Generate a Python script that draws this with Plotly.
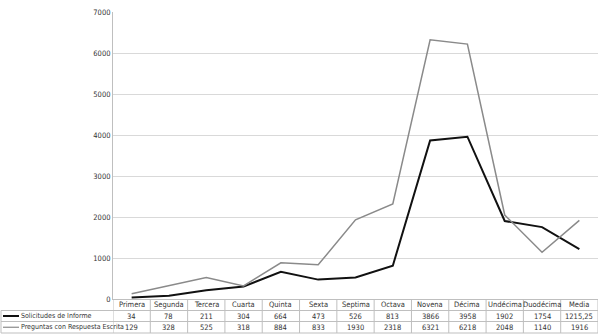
import plotly.graph_objects as go

categories = ["Primera", "Segunda", "Tercera", "Cuarta", "Quinta", "Sexta", "Septima",
              "Octava", "Novena", "Décima", "Undécima", "Duodécima", "Media"]
solicitudes = [34, 78, 211, 304, 664, 473, 526, 813, 3866, 3958, 1902, 1754, 1215.25]
solicitudes_txt = ["34", "78", "211", "304", "664", "473", "526", "813", "3866", "3958",
                   "1902", "1754", "1215,25"]
preguntas = [129, 328, 525, 318, 884, 833, 1930, 2318, 6321, 6218, 2048, 1140, 1916]
preguntas_txt = [str(v) for v in preguntas]
series_names = ["Solicitudes de Informe", "Preguntas con Respuesta Escrita"]
y_ticks = [0, 1000, 2000, 3000, 4000, 5000, 6000, 7000]

W, H = 600, 334
L, R, T, B = 113, 2, 12, 35
pw = W - L - R
ph = H - T - B

def py(px):  # pixel y -> paper y
    return (H - B - px) / ph

def pxx(px):  # pixel x -> paper x
    return (px - L) / pw

FONT = "Liberation Sans Narrow, DejaVu Sans Condensed, Liberation Sans"
line_col = "#bfbfbf"
txt_col = "#333333"

fig = go.Figure()
fig.add_trace(go.Scatter(x=categories, y=solicitudes, mode="lines", name=series_names[0],
                         line=dict(color="#111111", width=2)))
fig.add_trace(go.Scatter(x=categories, y=preguntas, mode="lines", name=series_names[1],
                         line=dict(color="#8a8a8a", width=1.5)))

shapes = []
ann = []
rows = [299, 310.5, 321.5, 333]
n = len(categories)
for yy in rows[1:]:
    shapes.append(dict(type="line", xref="paper", yref="paper", x0=pxx(1), x1=1,
                       y0=py(yy), y1=py(yy), line=dict(color=line_col, width=1)))
shapes.append(dict(type="line", xref="paper", yref="paper", x0=pxx(1), x1=pxx(1),
                   y0=py(rows[1]), y1=py(rows[3]), line=dict(color=line_col, width=1)))
for k in range(n + 1):
    shapes.append(dict(type="line", xref="x", yref="paper", x0=k - 0.5, x1=k - 0.5,
                       y0=py(rows[0]), y1=py(rows[3]), line=dict(color=line_col, width=1)))

centers = [(rows[i] + rows[i + 1]) / 2 for i in range(3)]
for k, c in enumerate(categories):
    for r, txt in enumerate([c, solicitudes_txt[k], preguntas_txt[k]]):
        ann.append(dict(x=c, xref="x", y=py(centers[r]), yref="paper", text=txt, showarrow=False,
                        font=dict(size=7.5, color=txt_col, family=FONT), yanchor="middle"))

for i, (nm, col, wd) in enumerate([(series_names[0], "#111111", 2), (series_names[1], "#8a8a8a", 1.2)]):
    yc = centers[i + 1]
    shapes.append(dict(type="line", xref="paper", yref="paper", x0=pxx(3), x1=pxx(19),
                       y0=py(yc), y1=py(yc), line=dict(color=col, width=wd)))
    ann.append(dict(x=pxx(19), xref="paper", y=py(yc), yref="paper", text=nm, showarrow=False,
                    xanchor="left", yanchor="middle",
                    font=dict(size=7, color=txt_col, family=FONT)))

fig.update_layout(
    width=W, height=H, margin=dict(l=L, r=R, t=T, b=B),
    paper_bgcolor="white", plot_bgcolor="white", showlegend=False,
    shapes=shapes, annotations=ann,
    xaxis=dict(type="category", range=[-0.5, n - 0.5], showticklabels=False, showgrid=False,
               showline=True, linecolor=line_col, linewidth=1, zeroline=False, ticks=""),
    yaxis=dict(range=[0, 7000], tickvals=y_ticks, showgrid=True, gridcolor="#d9d9d9",
               gridwidth=1, zeroline=False, showline=True, linecolor=line_col, linewidth=1,
               tickfont=dict(size=7.5, color=txt_col, family=FONT), ticks="", ticklen=0),
)

fig.write_html("out.html", config={"displayModeBar": False},
               post_script="document.body.style.margin='0';document.body.style.overflow='hidden';")
